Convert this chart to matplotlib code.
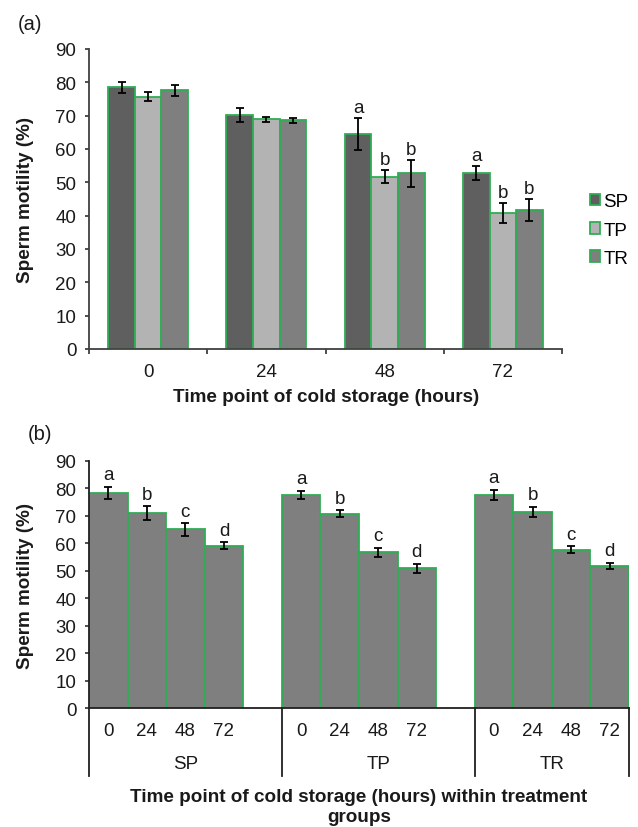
import matplotlib
matplotlib.use("Agg")
import matplotlib.pyplot as plt
import matplotlib.transforms as mtransforms
import numpy as np

plt.rcParams['font.family'] = ['Liberation Sans', 'DejaVu Sans']

# ---------------- Data panel (a) ----------------
time_points = ['0', '24', '48', '72']
groups = ['SP', 'TP', 'TR']
sp_vals = [78.5, 70.2, 64.5, 52.7]
tp_vals = [75.7, 69.0, 51.7, 40.9]
tr_vals = [77.6, 68.6, 52.7, 41.8]
sp_err = [1.7, 2.2, 4.9, 2.1]
tp_err = [1.35, 0.75, 2.0, 3.0]
tr_err = [1.75, 0.85, 4.0, 3.3]
sp_let = ['', '', 'a', 'a']
tp_let = ['', '', 'b', 'b']
tr_let = ['', '', 'b', 'b']

# ---------------- Data panel (b) ----------------
b_time_labels = ['0', '24', '48', '72']
b_sp = [78.3, 71.0, 65.0, 59.1]
b_tp = [77.5, 70.8, 56.7, 50.9]
b_tr = [77.5, 71.3, 57.6, 51.7]
b_sp_err = [2.1, 2.4, 2.2, 1.2]
b_tp_err = [1.5, 1.2, 1.7, 1.6]
b_tr_err = [1.8, 1.9, 1.3, 1.1]
b_letters = ['a', 'b', 'c', 'd']

colors = {'SP': '#5f5f5f', 'TP': '#b3b3b3', 'TR': '#7f7f7f'}
edge = '#2fae55'
axis_col = '#404040'
txt_col = '#1a1a1a'
FS = 13.5
LFS = 13.6

W, H = 638, 828
fig = plt.figure(figsize=(W / 100, H / 100), dpi=100)

def frac(x0, y0, x1, y1):
    return [x0 / W, 1 - y1 / H, (x1 - x0) / W, (y1 - y0) / H]

def fx(px):
    return px / W

def fy(py):
    return 1 - py / H

# ================= Panel (a) =================
axa = fig.add_axes(frac(89, 50, 562, 350))
x = np.arange(len(time_points))
bw = 0.225
series = [(sp_vals, sp_err, sp_let, 'SP'), (tp_vals, tp_err, tp_let, 'TP'), (tr_vals, tr_err, tr_let, 'TR')]
for i, (vals, errs, lets, name) in enumerate(series):
    pos = x + (i - 1) * bw
    axa.bar(pos, vals, width=bw, color=colors[name], edgecolor=edge, linewidth=1.3,
            label=name, zorder=2)
    axa.errorbar(pos, vals, yerr=errs, fmt='none', ecolor='black', elinewidth=1.3,
                 capsize=3, capthick=1.3, zorder=3)
    for p, v, e, l in zip(pos, vals, errs, lets):
        if l:
            axa.text(p, v + e + 1.8, l, ha='center', va='baseline', fontsize=FS, color=txt_col)

axa.set_xlim(-0.5, 3.5)
axa.set_ylim(0, 90)
axa.set_yticks(np.arange(0, 91, 10))
axa.set_xticks(np.arange(-0.5, 4.0, 1.0))
axa.set_xticklabels([])
axa.set_xticks(x, minor=True)
axa.set_xticklabels(time_points, minor=True)
axa.tick_params(axis='x', which='major', direction='out', length=3.5, color=axis_col, width=1.3)
axa.tick_params(axis='x', which='minor', length=0, pad=10, labelsize=FS, labelcolor=txt_col)
axa.tick_params(axis='y', direction='out', length=3, color=axis_col, width=1.3,
                labelsize=FS, labelcolor=txt_col, pad=6)
for s in ['top', 'right']:
    axa.spines[s].set_visible(False)
for s in ['left', 'bottom']:
    axa.spines[s].set_color(axis_col)
    axa.spines[s].set_linewidth(1.3)
fig.text(fx(25), fy(200), 'Sperm motility (%)', rotation=90, fontsize=LFS, fontweight='bold',
         color=txt_col, ha='center', va='center')
fig.text(fx(326), fy(398), 'Time point of cold storage (hours)', fontsize=LFS, fontweight='bold',
         color=txt_col, ha='center', va='center')
leg = axa.legend(loc='center left', bbox_to_anchor=(fx(590), fy(231)),
                 bbox_transform=fig.transFigure, frameon=False, fontsize=FS,
                 handlelength=0.55, handleheight=0.55, handletextpad=0.15,
                 labelspacing=0.6, borderaxespad=0, borderpad=0)
fig.text(fx(18), fy(25), '(a)', fontsize=14.5, va='center', ha='left', color=txt_col)

# ================= Panel (b) =================
axb = fig.add_axes(frac(89, 461.7, 629, 709.3))
b_vals = [b_sp, b_tp, b_tr]
b_errs = [b_sp_err, b_tp_err, b_tr_err]
n_t = len(b_time_labels)
all_pos = []
for gi, (vals, errs) in enumerate(zip(b_vals, b_errs)):
    pos = np.arange(n_t) + gi * (n_t + 1)
    all_pos.extend(pos)
    axb.bar(pos, vals, width=1.0, color=colors['TR'], edgecolor=edge, linewidth=1.3, zorder=2)
    axb.errorbar(pos, vals, yerr=errs, fmt='none', ecolor='black', elinewidth=1.3,
                 capsize=3, capthick=1.3, zorder=3)
    for p, v, e, l in zip(pos, vals, errs, b_letters):
        axb.text(p, v + e + 2.8, l, ha='center', va='baseline', fontsize=FS, color=txt_col)

n_slots = len(groups) * (n_t + 1) - 1
axb.set_xlim(-0.5, n_slots - 0.5)
axb.set_ylim(0, 90)
axb.set_yticks(np.arange(0, 91, 10))
axb.set_xticks(all_pos)
axb.set_xticklabels(b_time_labels * len(groups))
axb.tick_params(axis='x', length=0, pad=10, labelsize=FS, labelcolor=txt_col)
axb.tick_params(axis='y', direction='out', length=3, color=axis_col, width=1.3,
                labelsize=FS, labelcolor=txt_col, pad=6)
for s in ['top', 'right']:
    axb.spines[s].set_visible(False)
for s in ['left', 'bottom']:
    axb.spines[s].set_color('#202020')
    axb.spines[s].set_linewidth(1.3)

trans = mtransforms.blended_transform_factory(axb.transData, axb.transAxes)
seps = [-0.5] + [gi * (n_t + 1) - 0.5 for gi in range(1, len(groups))] + [n_slots - 0.5]
ybot = -(777 - 709.3) / 247.6
for sx in seps:
    axb.plot([sx, sx], [0, ybot], transform=trans, color='#202020', lw=1.3, clip_on=False)
for gi, g in enumerate(groups):
    cx = (seps[gi] + seps[gi + 1]) / 2
    axb.text(cx, -(765 - 709.3) / 247.6, g, transform=trans, ha='center', va='center',
             fontsize=FS, color=txt_col)

fig.text(fx(25), fy(585.5), 'Sperm motility (%)', rotation=90, fontsize=LFS, fontweight='bold',
         color=txt_col, ha='center', va='center')
fig.text(fx(359), fy(798), 'Time point of cold storage (hours) within treatment',
         ha='center', va='center', fontsize=LFS, fontweight='bold', color=txt_col)
fig.text(fx(359), fy(818), 'groups',
         ha='center', va='center', fontsize=LFS, fontweight='bold', color=txt_col)
fig.text(fx(28), fy(435), '(b)', fontsize=14.5, va='center', ha='left', color=txt_col)

fig.savefig('out.png', dpi=100, facecolor='white')
